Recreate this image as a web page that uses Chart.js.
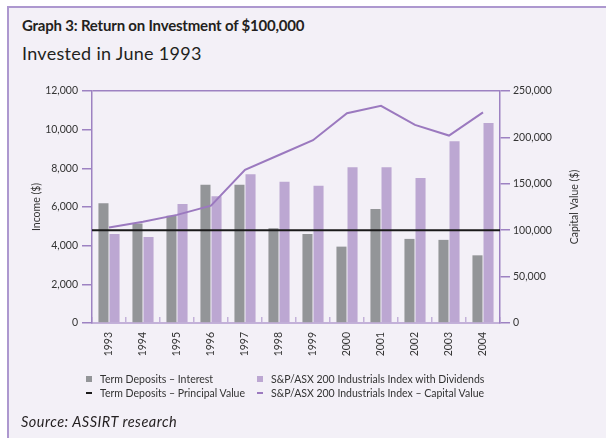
<!DOCTYPE html>
<html>
<head>
<meta charset="utf-8">
<script src="https://cdn.jsdelivr.net/npm/chart.js@4.4.1/dist/chart.umd.min.js"></script>
<style>
  html, body { margin: 0; padding: 0; background: #fff; }
  body { width: 606px; height: 438px; position: relative; overflow: hidden; font-family: 'Lato', sans-serif; color: #231f20; }
  #panel { position: absolute; left: 7px; top: 6px; right: 0; bottom: 0; background: #f3f0f7;
           border-left: 2px solid #ad98cf; border-top: 2px solid #ad98cf; }
  #chart { position: absolute; left: 0; top: 0; }
  .title { position: absolute; left: 22px; top: 16px; font-size: 15px; font-weight: bold; letter-spacing: -0.2px; white-space: nowrap; }
  .subtitle { position: absolute; left: 22px; top: 42px; font-size: 18px; letter-spacing: 0.3px; white-space: nowrap; }
  #legend { position: absolute; left: 86px; top: 372px; display: grid; grid-template-columns: 171px auto;
            row-gap: 1px; font-size: 10.5px; color: #333; }
  #legend div { display: flex; align-items: center; height: 13px; white-space: nowrap; }
  #legend span.sw { display: inline-block; width: 6px; margin-right: 8px; }
  .source { position: absolute; left: 21px; top: 413px; font-size: 14.5px; letter-spacing: 0.5px; font-style: italic; white-space: nowrap; }
</style>
</head>
<body>
<div id="panel"></div>
<div class="title">Graph 3: Return on Investment of $100,000</div>
<div class="subtitle">Invested in June 1993</div>
<canvas id="chart" width="606" height="438"></canvas>
<div id="legend"></div>
<div class="source">Source: ASSIRT research</div>
<script>
const years = ['1993', '1994', '1995', '1996', '1997', '1998', '1999', '2000', '2001', '2002', '2003', '2004'];

// income, left axis
const tdInterest = [6200, 5150, 5550, 7150, 7150, 4900, 4600, 3950, 5900, 4350, 4300, 3500];
const asxDividends = [4600, 4450, 6150, 6550, 7700, 7300, 7100, 8050, 8050, 7500, 9400, 10350];

// capital value, right axis
const tdPrincipal = [100000, 100000, 100000, 100000, 100000, 100000, 100000, 100000, 100000, 100000, 100000, 100000];
const asxCapital = [103000, 109000, 116500, 126500, 165000, 181000, 197000, 226000, 234000, 213500, 202000, 227000];

const leftTicks = [0, 2000, 4000, 6000, 8000, 10000, 12000];
const rightTicks = [0, 50000, 100000, 150000, 200000, 250000];

const grey = '#939598';
const lilac = '#bca7d2';
const purple = '#9b79bf';
const axisPurple = '#9d82c2';
const textColor = '#333333';

Chart.defaults.font.family = "'Lato', sans-serif";
Chart.defaults.font.size = 10.5;
Chart.defaults.color = textColor;

// both axis titles, read bottom-to-top
const axisTitles = {
    id: 'axisTitles',
    afterDraw(chart) {
        const { ctx, chartArea } = chart;
        const mid = (chartArea.top + chartArea.bottom) / 2;
        ctx.save();
        ctx.fillStyle = textColor;
        ctx.font = "10.5px 'Lato', sans-serif";
        ctx.textAlign = 'center';
        ctx.textBaseline = 'middle';
        [[37, 'Income ($)'], [575, 'Capital Value ($)']].forEach(([x, t]) => {
            ctx.save();
            ctx.translate(x, mid);
            ctx.rotate(-Math.PI / 2);
            ctx.fillText(t, 0, 0);
            ctx.restore();
        });
        ctx.restore();
    }
};

// the principal line runs axis to axis in the original, so carry its ends out to the plot edges
const extendEnds = {
    id: 'extendEnds',
    afterDatasetsDraw(chart) {
        const { ctx, chartArea } = chart;
        chart.data.datasets.forEach((ds, i) => {
            if (!ds.extendToEdges) return;
            const pts = chart.getDatasetMeta(i).data;
            const first = pts[0], last = pts[pts.length - 1];
            ctx.save();
            ctx.strokeStyle = ds.borderColor;
            ctx.lineWidth = ds.borderWidth;
            ctx.beginPath();
            ctx.moveTo(chartArea.left, first.y);
            ctx.lineTo(first.x, first.y);
            ctx.moveTo(last.x, last.y);
            ctx.lineTo(chartArea.right, last.y);
            ctx.stroke();
            ctx.restore();
        });
    }
};

const chart = new Chart(document.getElementById('chart'), {
    type: 'bar',
    data: {
        labels: years,
        datasets: [
            {
                type: 'bar',
                label: 'Term Deposits – Interest',
                data: tdInterest,
                yAxisID: 'y',
                backgroundColor: grey,
                barPercentage: 0.91,
                categoryPercentage: 0.65,
                order: 2
            },
            {
                type: 'bar',
                label: 'S&P/ASX 200 Industrials Index with Dividends',
                data: asxDividends,
                yAxisID: 'y',
                backgroundColor: lilac,
                barPercentage: 0.91,
                categoryPercentage: 0.65,
                order: 2
            },
            {
                type: 'line',
                label: 'Term Deposits – Principal Value',
                data: tdPrincipal,
                yAxisID: 'y2',
                borderColor: '#1a1a1a',
                backgroundColor: '#1a1a1a',
                borderWidth: 2,
                pointRadius: 0,
                extendToEdges: true,
                order: 1
            },
            {
                type: 'line',
                label: 'S&P/ASX 200 Industrials Index – Capital Value',
                data: asxCapital,
                yAxisID: 'y2',
                borderColor: purple,
                backgroundColor: purple,
                borderWidth: 2,
                pointRadius: 0,
                tension: 0,
                order: 0
            }
        ]
    },
    options: {
        responsive: false,
        animation: false,
        devicePixelRatio: 1,
        layout: { padding: { top: 91, left: 0, right: 0, bottom: 0 } },
        plugins: { legend: { display: false }, tooltip: { enabled: false } },
        scales: {
            x: {
                type: 'category',
                position: 'bottom',
                offset: true,
                afterFit(s) { s.height = 115; },
                border: { color: '#c3b1d9', width: 2 },
                grid: { offset: true, drawOnChartArea: false, drawTicks: true, tickLength: -6, tickColor: '#c3b1d9', lineWidth: 1.5 },
                ticks: { minRotation: 90, maxRotation: 90, padding: 15, labelOffset: 0, color: textColor }
            },
            y: {
                position: 'left',
                min: leftTicks[0],
                max: leftTicks[leftTicks.length - 1],
                afterFit(s) { s.width = 92; },
                afterBuildTicks(s) { s.ticks = leftTicks.map(v => ({ value: v })); },
                border: { color: axisPurple, width: 1.5 },
                grid: {
                    drawOnChartArea: true,
                    color: c => (c.tick && c.tick.value === 12000 ? axisPurple : 'transparent'),
                    lineWidth: 1.5,
                    tickColor: axisPurple,
                    tickLength: 10
                },
                ticks: { padding: 4, color: textColor, callback: v => v.toLocaleString('en-US') }
            },
            y2: {
                position: 'right',
                min: rightTicks[0],
                max: rightTicks[rightTicks.length - 1],
                afterFit(s) { s.width = 106; },
                afterBuildTicks(s) { s.ticks = rightTicks.map(v => ({ value: v })); },
                border: { color: axisPurple, width: 1.5 },
                grid: { drawOnChartArea: false, tickColor: axisPurple, tickLength: 10, lineWidth: 1.5 },
                ticks: { padding: 3, color: textColor, callback: v => v.toLocaleString('en-US') }
            }
        }
    },
    plugins: [axisTitles, extendEnds]
});

// HTML legend, two columns, built from the datasets
const legend = document.getElementById('legend');
chart.data.datasets.forEach(ds => {
    const item = document.createElement('div');
    const sw = document.createElement('span');
    sw.className = 'sw';
    sw.style.background = ds.type === 'bar' ? ds.backgroundColor : ds.borderColor;
    sw.style.height = ds.type === 'bar' ? '6px' : '2px';
    item.appendChild(sw);
    item.appendChild(document.createTextNode(ds.label));
    legend.appendChild(item);
});
</script>
</body>
</html>
